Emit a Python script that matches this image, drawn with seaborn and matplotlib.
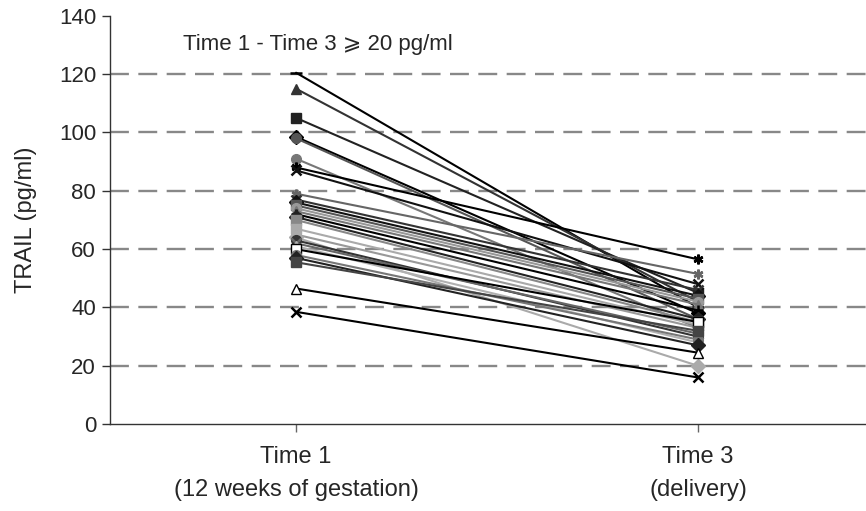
import matplotlib
matplotlib.use('Agg')
import matplotlib.pyplot as plt
import seaborn as sns
import pandas as pd

#---------------data------------------------------------
times = ['Time 1\n(12 weeks of gestation)', 'Time 3\n(delivery)']

time1 = [120.5, 115, 105, 98.5, 98, 91, 88, 87, 79, 77, 76, 75, 74, 73, 72,
         71, 70, 67, 65, 64, 63, 62, 61, 60, 58, 57, 55.5, 46.5, 38.5]
time3 = [40, 42, 45, 38, 36, 33, 56.5, 48, 51.5, 46, 44, 43, 42, 41, 39,
         36, 35, 34, 33, 20, 30, 31, 28, 35, 29, 27, 32, 24.5, 16]

# marker / colour per patient (excel grey-scale series)
markers = ['_', '^', 's', 'D', 'o', 'o', (6, 2, 0), 'x', (6, 2, 0), 'x', 'D', 's', 'o', '^',
           '+', 'D', 's', 's', '^', 'D', 'o', 'x', '^', 's', 'o', 'D', 's', '^', 'x']
colors = ['#000000', '#333333', '#222222', '#000000', '#555555', '#777777', '#000000',
          '#111111', '#666666', '#333333', '#111111', '#555555', '#999999', '#777777',
          '#000000', '#222222', '#888888', '#aaaaaa', '#999999', '#aaaaaa', '#333333',
          '#666666', '#b0b0b0', '#000000', '#777777', '#222222', '#444444', '#000000',
          '#000000']
open_marker = [False] * len(time1)
open_marker[23] = True
open_marker[27] = True

rows = []
for i in range(len(time1)):
    rows.append({'patient': i, 'time': times[0], 'trail': time1[i]})
    rows.append({'patient': i, 'time': times[1], 'trail': time3[i]})
df = pd.DataFrame(rows)

#---------------plot-----------------
sns.set_style('white')
plt.rcParams['font.family'] = ['Liberation Sans', 'DejaVu Sans']

fig = plt.figure(figsize=(8.66, 5.11), dpi=100)
ax = fig.add_axes([0.127, 0.170, 0.873, 0.799])

# dashed grid
for g in [20, 40, 60, 80, 100, 120]:
    ax.axhline(g, color='#888888', lw=1.7, dashes=(8, 4), zorder=0)

for i in range(len(time1)):
    sub = df[df['patient'] == i]
    mk = markers[i]
    sns.lineplot(data=sub, x='time', y='trail', ax=ax, color=colors[i], lw=1.5,
                 marker=mk, markersize=7 if mk not in ['_'] else 9,
                 markeredgewidth=1.8 if mk in ['x', '+', '_'] or isinstance(mk, tuple) else 1.0,
                 markerfacecolor='white' if open_marker[i] else colors[i],
                 markeredgecolor=colors[i], sort=False, legend=False)

ax.set_ylim(0, 140)
ax.set_yticks(range(0, 141, 20))
ax.set_xlim(-0.463, 1.418)

sns.despine(ax=ax)
for s in ['left', 'bottom']:
    ax.spines[s].set_color('#333333')
    ax.spines[s].set_linewidth(1.0)

ax.tick_params(axis='y', direction='out', length=6, width=1, color='#333333',
               labelsize=16, pad=4, left=True)
ax.tick_params(axis='x', direction='out', length=6, width=1, color='#666666',
               labelsize=17, pad=10, bottom=True)
for lbl in ax.get_xticklabels():
    lbl.set_linespacing(1.65)

ax.set_xlabel('')
ax.set_ylabel('TRAIL (pg/ml)', fontsize=17, labelpad=16)

ax.text(0.097, 0.929, 'Time 1 - Time 3 \u2a7e 20 pg/ml', transform=ax.transAxes,
        fontsize=16, ha='left', va='center', family=['Liberation Sans', 'DejaVu Sans'])

plt.savefig('out.png', dpi=100)
